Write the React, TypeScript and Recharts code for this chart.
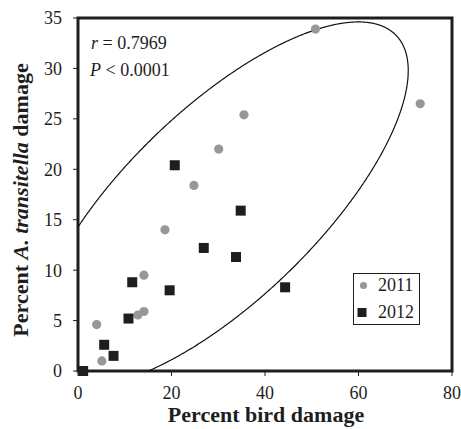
import React from 'react'
import {
  ScatterChart,
  Scatter,
  XAxis,
  YAxis,
  ReferenceArea,
  Legend,
  Customized,
} from 'recharts'

// percent bird damage (x) vs percent A. transitella damage (y)
const bird2011 = [35.5, 30.1, 24.8, 18.6, 14.1, 14.1, 12.8, 4.0, 5.1, 50.8, 73.2]
const moth2011 = [25.4, 22.0, 18.4, 14.0, 9.5, 5.9, 5.55, 4.6, 1.0, 33.9, 26.5]
const bird2012 = [20.7, 34.8, 26.9, 33.8, 11.6, 19.6, 44.3, 10.8, 5.6, 7.6, 1.1]
const moth2012 = [20.4, 15.9, 12.2, 11.3, 8.8, 8.0, 8.3, 5.2, 2.6, 1.5, 0.0]

const xTicks = [0, 20, 40, 60, 80]
const yTicks = [0, 5, 10, 15, 20, 25, 30, 35]

// confidence ellipse drawn on the figure (centre + covariance, data units)
const ellipseCenter = [30.6, 16.5]
const ellipseCov = { xx: 1603, xy: 532, yy: 328 }

const data2011 = bird2011.map((x, i) => ({ x, y: moth2011[i] }))
const data2012 = bird2012.map((x, i) => ({ x, y: moth2012[i] }))

function ellipseOutline() {
  const n = 1440
  const l11 = Math.sqrt(ellipseCov.xx)
  const l21 = ellipseCov.xy / l11
  const l22 = Math.sqrt(ellipseCov.yy - l21 * l21)
  const pts: { x: number; y: number }[] = []
  for (let i = 0; i < n; i++) {
    const t = (2 * Math.PI * i) / n
    const c = Math.cos(t)
    const s = Math.sin(t)
    pts.push({ x: ellipseCenter[0] + l11 * c, y: ellipseCenter[1] + l21 * c + l22 * s })
  }
  const inside = (p: { x: number; y: number }) => p.x >= 0 && p.x <= 80 && p.y >= 0 && p.y <= 35
  // start where the curve re-enters the plot so the open arc is not closed across the frame
  let start = 0
  for (let i = 0; i < n; i++) {
    if (inside(pts[i]) && !inside(pts[(i - 1 + n) % n])) {
      start = i
      break
    }
  }
  const out: { x: number; y: number }[] = []
  for (let k = 0; k < n; k++) {
    const p = pts[(start + k) % n]
    if (!inside(p)) break
    out.push(p)
  }
  return out
}

const ellipseData = ellipseOutline()

const FONT = '"Liberation Serif", "Times New Roman", serif'
const INK = '#1e1e1e'
const GREY = '#979797'

const Dot = (props: any) => <circle cx={props.cx} cy={props.cy} r={4.6} fill={GREY} />
const Box = (props: any) => <rect x={props.cx - 5} y={props.cy - 5} width={10} height={10} fill={INK} />

const LegendBox = () => (
  <svg width={67} height={52} style={{ display: 'block' }}>
    <rect x={0.5} y={0.5} width={66} height={51} fill="#fff" stroke={INK} strokeWidth={1} />
    <circle cx={10.5} cy={12.5} r={3.6} fill={GREY} />
    <text x={25} y={18} fontFamily={FONT} fontSize={18} fill={INK}>2011</text>
    <rect x={4.5} y={35} width={9} height={9} fill={INK} />
    <text x={25} y={45} fontFamily={FONT} fontSize={18} fill={INK}>2012</text>
  </svg>
)

const Annotations = () => (
  <g fontFamily={FONT} fill={INK}>
    <text x={91} y={49} fontSize={18}>
      <tspan fontStyle="italic">r</tspan> = 0.7969
    </text>
    <text x={90} y={76} fontSize={18}>
      <tspan fontStyle="italic">P</tspan> &lt; 0.0001
    </text>
    <text x={266} y={422} fontSize={22} fontWeight="bold" textAnchor="middle">
      Percent bird damage
    </text>
    <text
      x={28}
      y={200}
      fontSize={22}
      fontWeight="bold"
      textAnchor="middle"
      transform="rotate(-90, 28, 200)"
    >
      Percent <tspan fontStyle="italic">A. transitella</tspan> damage
    </text>
  </g>
)

export default function App() {
  const tick = { fontFamily: FONT, fontSize: 18, fill: INK }
  return (
    <div style={{ position: 'absolute', left: 0, top: 0, background: '#fff' }}>
      <ScatterChart width={461} height={429} margin={{ top: 18, right: 9, bottom: 0, left: 0 }}>
        <XAxis
          type="number"
          dataKey="x"
          domain={[0, 80]}
          ticks={xTicks}
          height={58}
          axisLine={false}
          tickSize={5}
          tickMargin={10}
          tickLine={{ stroke: INK }}
          tick={tick}
        />
        <YAxis
          type="number"
          dataKey="y"
          domain={[0, 35]}
          ticks={yTicks}
          width={78}
          axisLine={false}
          tickSize={5}
          tickMargin={11}
          tickLine={{ stroke: INK }}
          tick={tick}
        />
        <Scatter
          name="ellipse"
          data={ellipseData}
          line={{ stroke: '#111', strokeWidth: 1.2 }}
          shape={() => <g />}
          legendType="none"
          isAnimationActive={false}
        />
        <Scatter name="2011" data={data2011} shape={Dot} isAnimationActive={false} />
        <Scatter name="2012" data={data2012} shape={Box} isAnimationActive={false} />
        <ReferenceArea
          x1={0}
          x2={80}
          y1={0}
          y2={35}
          fill="none"
          fillOpacity={0}
          stroke={INK}
          strokeWidth={3}
        />
        <Legend
          layout="vertical"
          align="center"
          verticalAlign="middle"
          wrapperStyle={{ left: 353, top: 273, width: 67, right: 'auto', bottom: 'auto' }}
          content={() => <LegendBox />}
        />
        <Customized component={Annotations} />
      </ScatterChart>
    </div>
  )
}
